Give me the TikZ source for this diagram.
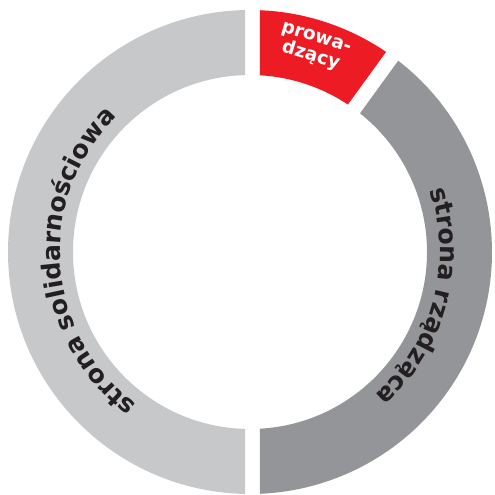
\documentclass[tikz,border=0pt]{standalone}
\usepackage{fontspec}
\setmainfont{DejaVu Sans}
\usetikzlibrary{decorations.text}

\definecolor{solidgray}{HTML}{C7C8CA}
\definecolor{govgray}{HTML}{939598}
\definecolor{chairred}{HTML}{ED1C24}
\definecolor{labelblack}{HTML}{231F20}

\def\R{4.84}
\def\r{3.54}

\begin{document}
\begin{tikzpicture}[
            ringlabel/.style={decorate, decoration={text along path, text align=center,
                text={|\color{labelblack}\bfseries\fontsize{14.3}{16}\selectfont|#1}}},
            chair/.style={text=white, font=\bfseries\fontsize{10.5}{11}\selectfont, align=center, inner sep=0pt},
        ]
            \useasboundingbox (-5.0,-4.86) rectangle (4.9,5.04);

            % Draw the left part of the ring
            \fill[solidgray] ({90+asin(0.1/\R)}:\R) arc[start angle={90+asin(0.1/\R)}, end angle={270-asin(0.1/\R)}, radius=\R]
                -- ({270-asin(0.1/\r)}:\r) arc[start angle={270-asin(0.1/\r)}, end angle={90+asin(0.1/\r)}, radius=\r] -- cycle;

            % Draw the red part at the top
            \fill[chairred] ({90-asin(0.2/\R)}:\R) arc[start angle={90-asin(0.2/\R)}, end angle={54+asin(0.15/\R)}, radius=\R]
                -- ({54+asin(0.15/\r)}:\r) arc[start angle={54+asin(0.15/\r)}, end angle={90-asin(0.2/\r)}, radius=\r] -- cycle;

            % Draw the dark part on the right
            \fill[govgray] ({54-asin(0.15/\R)}:\R) arc[start angle={54-asin(0.15/\R)}, end angle={-90+asin(0.2/\R)}, radius=\R]
                -- ({-90+asin(0.2/\r)}:\r) arc[start angle={-90+asin(0.2/\r)}, end angle={54-asin(0.15/\r)}, radius=\r] -- cycle;

            % Labels along the ring
            \path[ringlabel={strona solidarnościowa}] (274:3.8) arc[start angle=274, end angle=94, radius=3.8];
            \path[ringlabel={strona rządząca}] (75:3.8) arc[start angle=75, end angle=-105, radius=3.8];

            \node[chair, rotate=-17] (lead) at (72.8:4.27) {prowa-\\dzący};
        \end{tikzpicture}
\end{document}
